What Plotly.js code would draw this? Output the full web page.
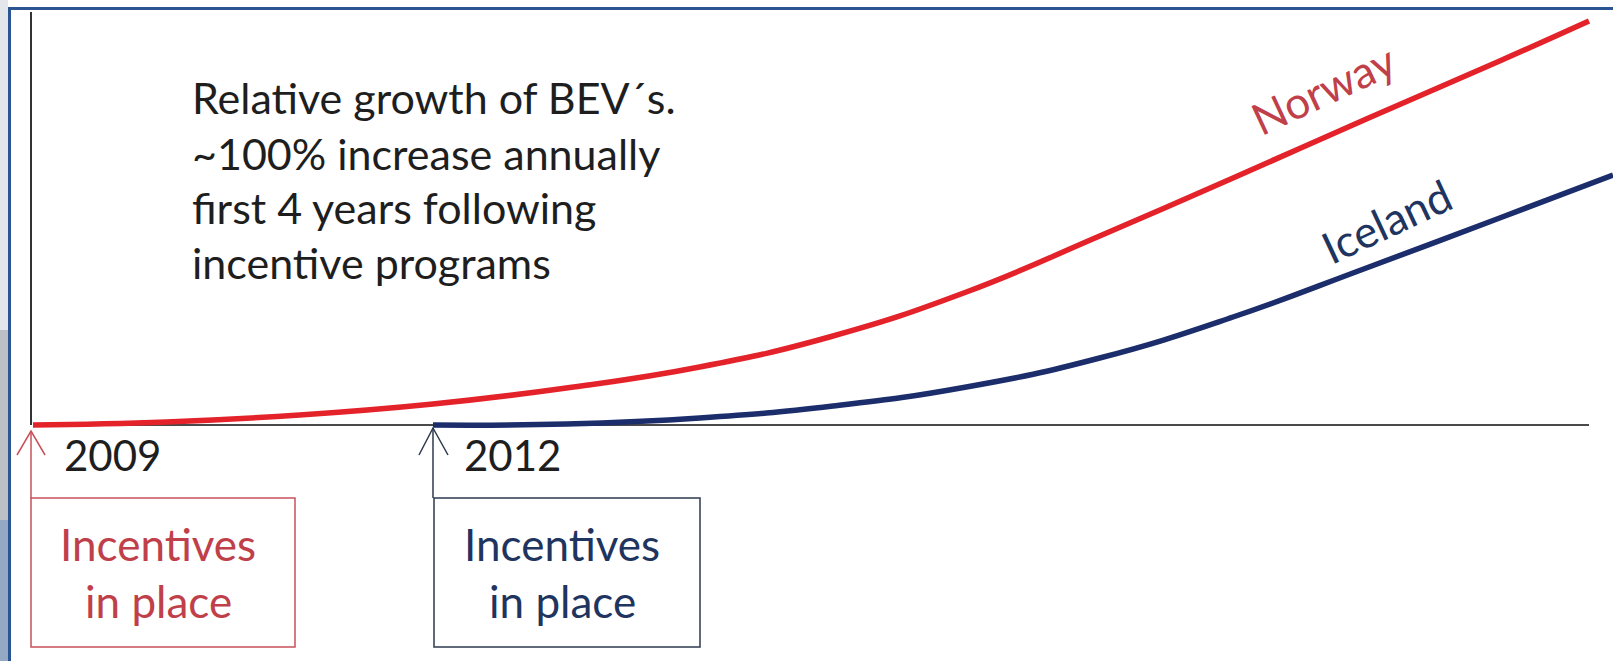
<!DOCTYPE html>
<html>
<head>
<meta charset="utf-8">
<script src="https://cdn.plot.ly/plotly-3.0.1.min.js"></script>
<style>
  html, body { margin: 0; padding: 0; background: #ffffff; }
  #chart { width: 1613px; height: 661px; }
</style>
</head>
<body>
<div id="chart"></div>
<script>
// ---- data (schematic relative growth, height above baseline) ----
const norwayYears  = [2009, 2010, 2011, 2012, 2013, 2014, 2015, 2016, 2017, 2018, 2019, 2020, 2020.67];
const norwayValues = [0,    3,    10,   21,   37,   58,   89,   133,  189,  247,  306,  364,  404];
const icelandYears  = [2012, 2013, 2014, 2015, 2016, 2017, 2018, 2019, 2020, 2020.85];
const icelandValues = [0,    1,    7,    19,   38,   67,   108,  157,  207,  250];
const startYears = [2009, 2012];
const startLabels = ['2009', '2012'];
const seriesNames = ['Norway', 'Iceland'];
const noteLines = ['Relative growth of BEV\u00b4s.', '~100% increase annually', 'first 4 years following', 'incentive programs'];
const boxLines = ['Incentives', 'in place'];

// ---- layout helpers ----
const W = 1613, H = 661;
const yearPx = 400 / 3;
const px = x => x / W;
const py = y => 1 - y / H;
const RED = '#e4222a', BLUE = '#1b2d6b';
const RED_TXT = '#c0404a', BLUE_TXT = '#1f3560';
const FONT = 'Lato, "Open Sans", sans-serif';

const traces = [
  { x: norwayYears, y: norwayValues, name: seriesNames[0], mode: 'lines',
    line: { color: RED, width: 5.5, shape: 'spline', smoothing: 1.3 }, hoverinfo: 'skip' },
  { x: icelandYears, y: icelandValues, name: seriesNames[1], mode: 'lines',
    line: { color: BLUE, width: 5.5, shape: 'spline', smoothing: 1.3 }, hoverinfo: 'skip' }
];

function pathP(pts) {
  return pts.map((p, i) => (i ? 'L' : 'M') + px(p[0]).toFixed(5) + ',' + py(p[1]).toFixed(5)).join(' ');
}

const shapes = [
  // photo strip at far left
  { type: 'rect', xref: 'paper', yref: 'paper', x0: 0, x1: px(8), y0: py(0), y1: py(330), fillcolor: '#e3e6ea', line: { width: 0 }, layer: 'below' },
  { type: 'rect', xref: 'paper', yref: 'paper', x0: 0, x1: px(8), y0: py(330), y1: py(520), fillcolor: '#bcbfc6', line: { width: 0 }, layer: 'below' },
  { type: 'rect', xref: 'paper', yref: 'paper', x0: 0, x1: px(8), y0: py(520), y1: py(661), fillcolor: '#94a9c3', line: { width: 0 }, layer: 'below' },
  // frame border
  { type: 'rect', xref: 'paper', yref: 'paper', x0: px(8), x1: px(11), y0: py(7), y1: py(661), fillcolor: '#2b5592', line: { width: 0 }, layer: 'below' },
  { type: 'rect', xref: 'paper', yref: 'paper', x0: px(8), x1: 1, y0: py(7), y1: py(10), fillcolor: '#2b5592', line: { width: 0 }, layer: 'below' },
  // vertical axis
  { type: 'line', xref: 'paper', yref: 'paper', x0: px(31), x1: px(31), y0: py(12), y1: py(425), line: { color: '#333333', width: 2 }, layer: 'below' },
  // baseline
  { type: 'line', xref: 'x', yref: 'y', x0: startYears[0], x1: norwayYears[norwayYears.length - 1], y0: 0, y1: 0, line: { color: '#4a4a4a', width: 2 }, layer: 'below' },
  // arrows
  { type: 'path', xref: 'paper', yref: 'paper', path: pathP([[31, 498], [31, 431]]), line: { color: '#c8505a', width: 1.5 } },
  { type: 'path', xref: 'paper', yref: 'paper', path: pathP([[17, 455], [31, 431], [45, 455]]), line: { color: '#c8505a', width: 1.5 } },
  { type: 'path', xref: 'paper', yref: 'paper', path: pathP([[433, 498], [433, 428]]), line: { color: '#2d3a4f', width: 1.5 } },
  { type: 'path', xref: 'paper', yref: 'paper', path: pathP([[419, 455], [433, 428], [448, 455]]), line: { color: '#2d3a4f', width: 1.5 } },
  // boxes
  { type: 'rect', xref: 'paper', yref: 'paper', x0: px(31), x1: px(295), y0: py(498), y1: py(647), line: { color: '#c8505a', width: 1.5 } },
  { type: 'rect', xref: 'paper', yref: 'paper', x0: px(434), x1: px(700), y0: py(498), y1: py(647), line: { color: '#2d3a4f', width: 1.5 } }
];

const noteY = [97, 153, 208, 262];
const annotations = [];
noteLines.forEach((t, i) => annotations.push({
  xref: 'paper', yref: 'paper', x: px(190), y: py(noteY[i]), xanchor: 'left', yanchor: 'middle',
  text: t, showarrow: false, font: { family: FONT, size: 43, color: '#1e1e1e' }
}));
const labelX = [62, 462];
startLabels.forEach((t, i) => annotations.push({
  xref: 'paper', yref: 'paper', x: px(labelX[i]), y: py(455), xanchor: 'left', yanchor: 'middle',
  text: t, showarrow: false, font: { family: FONT, size: 42, color: '#1e1e1e' }
}));
const boxCX = [158, 562], boxCol = [RED_TXT, BLUE_TXT];
boxCX.forEach((cx, i) => {
  boxLines.forEach((t, j) => annotations.push({
    xref: 'paper', yref: 'paper', x: px(cx), y: py(j ? 601 : 544), xanchor: 'center', yanchor: 'middle',
    text: t, showarrow: false, font: { family: FONT, size: 44, color: boxCol[i] }
  }));
});
annotations.push({ xref: 'paper', yref: 'paper', x: px(1323), y: py(89), xanchor: 'center', yanchor: 'middle',
  text: seriesNames[0], textangle: -25, showarrow: false, font: { family: FONT, size: 44, color: RED_TXT } });
annotations.push({ xref: 'paper', yref: 'paper', x: px(1386), y: py(221), xanchor: 'center', yanchor: 'middle',
  text: seriesNames[1], textangle: -25, showarrow: false, font: { family: FONT, size: 44, color: BLUE_TXT } });

const layout = {
  width: W, height: H,
  margin: { l: 0, r: 0, t: 0, b: 0 },
  paper_bgcolor: '#ffffff', plot_bgcolor: '#ffffff',
  showlegend: false,
  xaxis: { range: [2009 - 33 / yearPx, 2009 + (W - 33) / yearPx], visible: false, fixedrange: true },
  yaxis: { range: [-236, 425], visible: false, fixedrange: true },
  shapes: shapes,
  annotations: annotations
};

Plotly.newPlot('chart', traces, layout, { displayModeBar: false, staticPlot: true });
</script>
</body>
</html>
